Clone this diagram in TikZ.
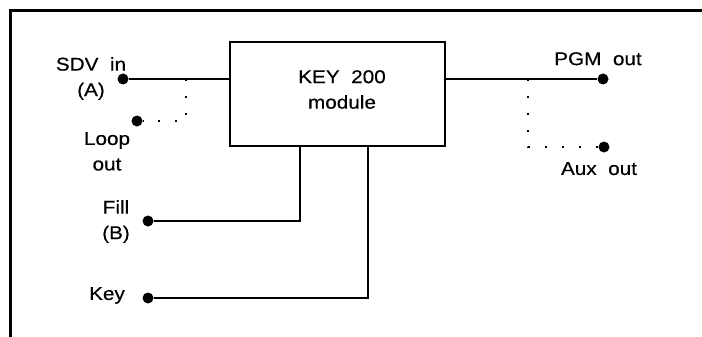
\documentclass[tikz,border=0pt]{standalone}
\usepackage{fontspec}
\setmainfont{Liberation Sans}[FakeStretch=1.12, FakeBold=0.4]

\tikzset{
  dot/.style={circle, fill=black, inner sep=0pt, minimum size=11pt},
  lbl/.style={align=center, anchor=north, inner sep=0pt, font=\fontsize{18.5}{25.5}\selectfont},
  wire/.style={line width=2pt},
  dotwire/.style={line width=2.2pt, dash pattern=on 2.2pt off 14.8pt},
}

\begin{document}
\begin{tikzpicture}[x=1pt, y=-1pt]
  % 1. Marco (solo arriba y a la izquierda)
  \useasboundingbox (0,0) rectangle (702,337);
  \draw[line width=3pt] (10,337) -- (10,11) -- (702,11);

  % 2. Modulo central
  \node[draw, line width=2pt, minimum width=215pt, minimum height=104pt, inner sep=0pt] (mod) at (337.5,94) {};
  \node[lbl] (modtxt) at (342,70) {KEY~~200\\module};

  % 3. Conectores (puntos)
  \node[dot] (sdv) at (123,79) {};
  \node[dot] (loop) at (137,121) {};
  \node[dot] (fill) at (148,221) {};
  \node[dot] (key) at (148,298) {};
  \node[dot] (pgm) at (603,79) {};
  \node[dot] (aux) at (604,147) {};

  % Etiquetas
  \node[lbl] (sdvtxt) at (91,57) {SDV~~in\\(A)};
  \node[lbl] (looptxt) at (107,132) {Loop\\out};
  \node[lbl] (filltxt) at (116,200) {Fill\\(B)};
  \node[lbl] (keytxt) at (107,287) {Key};
  \node[lbl] (pgmtxt) at (598,52) {PGM~~out};
  \node[lbl] (auxtxt) at (599,162) {Aux~~out};

  % 4. Cables
  \coordinate (ltap) at (186,79);
  \coordinate (rtap) at (528,79);
  \draw[wire] (sdv) -- (sdv -| mod.west);
  \draw[wire] (mod.east |- pgm) -- (pgm);
  \draw[wire] (fill) -| ([xshift=-37.5pt]mod.south);
  \draw[wire] (key) -| ([xshift=30.5pt]mod.south);

  % lazos punteados
  \draw[dotwire] (ltap) |- (loop);
  \draw[dotwire] (rtap) |- (aux);
\end{tikzpicture}
\end{document}
